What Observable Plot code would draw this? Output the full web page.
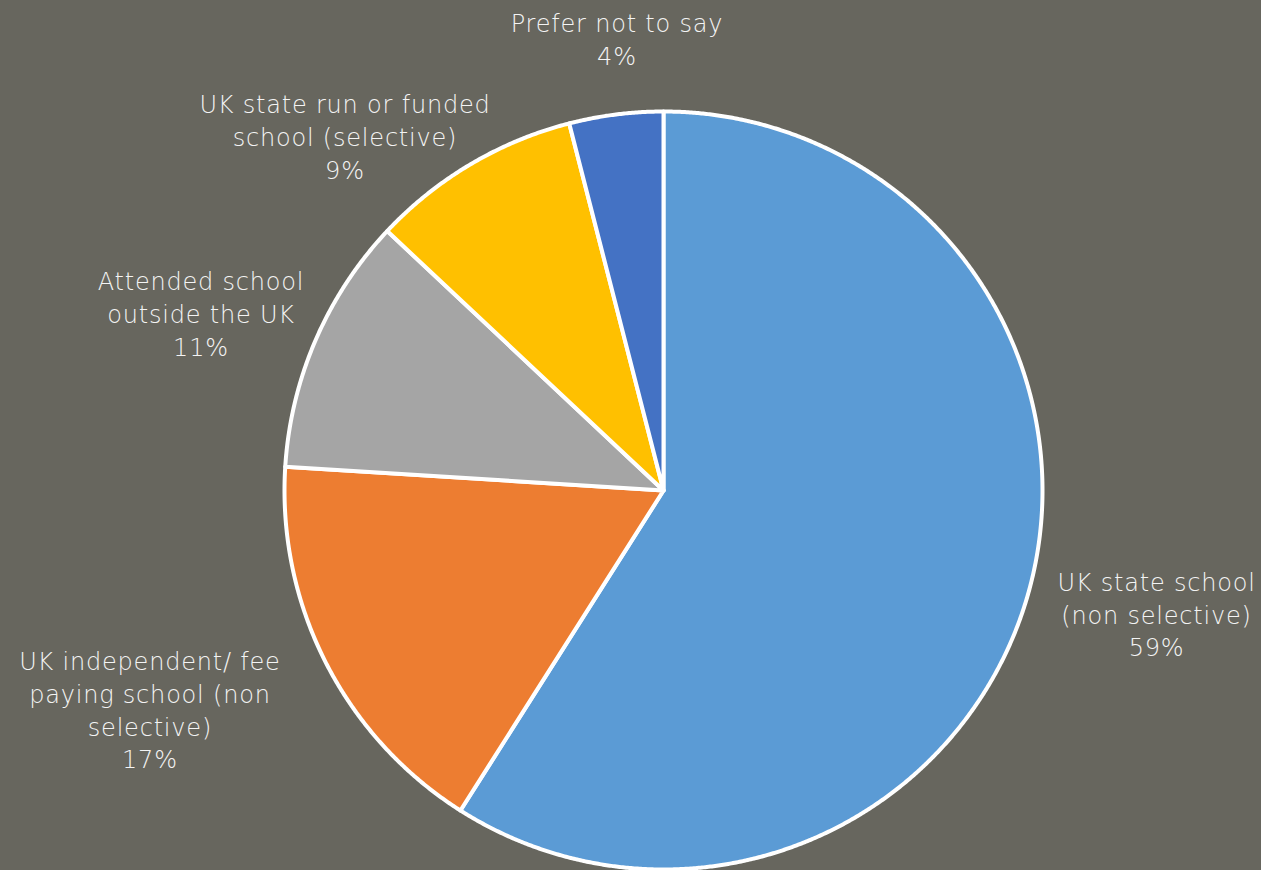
<!DOCTYPE html>
<html><head><meta charset="utf-8">
<script src="https://cdn.jsdelivr.net/npm/d3@7"></script>
<script src="https://cdn.jsdelivr.net/npm/@observablehq/plot@0.6"></script>
<style>html,body{margin:0;padding:0;background:#67665e;overflow:hidden}#chart svg{display:block}#chart svg text{letter-spacing:0.8px}</style>
</head><body><div id="chart"></div>
<script>
// ---- data ----
const categories = [
  "UK state school (non selective)",
  "UK independent/ fee paying school (non selective)",
  "Attended school outside the UK",
  "UK state run or funded school (selective)",
  "Prefer not to say"
];
const shares = [59, 17, 11, 9, 4];
const labelLines = [
  "UK state school\n(non selective)",
  "UK independent/ fee\npaying school (non\nselective)",
  "Attended school\noutside the UK",
  "UK state run or funded\nschool (selective)",
  "Prefer not to say"
];
const sliceColors = ["#5b9bd5", "#ed7d31", "#a5a5a5", "#ffc000", "#4472c4"];

// ---- layout (label placement: radius factor, angle nudge in degrees) ----
const labelLayout = [[1.338, -2.2], [1.475, 4], [1.31, -2.4], [1.26, -11.4], [1.2, 1.2]];

const W = 1261, H = 870, CX = 663, CY = 490, R = 379;
const total = d3.sum(shares);
const rad = d => d * Math.PI / 180;

// build slice polygons in data units (radius 1)
const slicePts = [];
const labelRows = [];
let cum = 0;
categories.forEach((c, i) => {
  const a0 = cum / total * 360, a1 = (cum + shares[i]) / total * 360;
  slicePts.push({cat: c, x: 0, y: 0});
  const n = Math.max(2, Math.ceil((a1 - a0) / 0.25));
  for (let k = 0; k <= n; k++) {
    const a = rad(a0 + (a1 - a0) * k / n);
    slicePts.push({cat: c, x: Math.sin(a), y: Math.cos(a)});
  }
  slicePts.push({cat: c, x: 0, y: 0});
  const [f, nudge] = labelLayout[i];
  const am = rad((a0 + a1) / 2 + nudge);
  labelRows.push({cat: c, x: f * Math.sin(am), y: f * Math.cos(am),
    text: labelLines[i] + "\n" + Math.round(shares[i] / total * 100) + "%"});
  cum += shares[i];
});

const chart = Plot.plot({
  width: W, height: H,
  margin: 0,
  style: {background: "#67665e"},
  x: {domain: [-CX / R, (W - CX) / R], range: [0, W], axis: null},
  y: {domain: [(CY - H) / R, CY / R], range: [H, 0], axis: null},
  color: {domain: categories, range: sliceColors},
  marks: [
    Plot.line(slicePts, {x: "x", y: "y", z: "cat", fill: "cat", stroke: "white",
      strokeWidth: 4, strokeLinejoin: "round", curve: "linear"}),
    Plot.text(labelRows, {x: "x", y: "y", text: "text", fill: "#f4f4f4",
      fontSize: 24, lineHeight: 1.36, lineAnchor: "middle", textAnchor: "middle",
      dx: 1, fontFamily: "'DejaVu Sans', sans-serif", fontWeight: 300})
  ]
});
document.getElementById("chart").append(chart);
</script>
</body></html>
